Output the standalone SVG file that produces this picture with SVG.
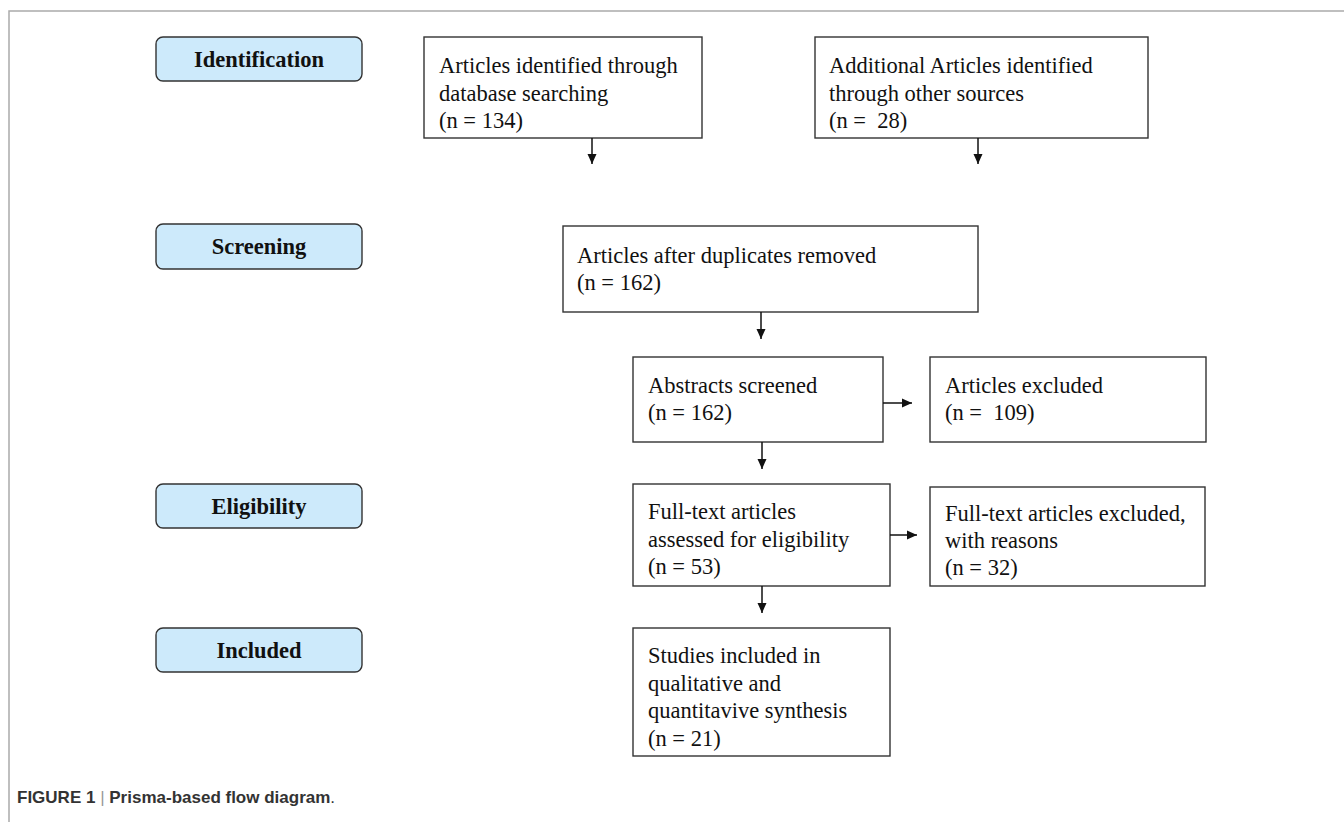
<svg xmlns="http://www.w3.org/2000/svg" width="1344" height="822" viewBox="0 0 1344 822">
  <style>
    .box { fill: #ffffff; stroke: #333333; stroke-width: 1.4; }
    .stage { fill: #cdeafb; stroke: #333333; stroke-width: 1.4; }
    .txt { font-family: "Liberation Serif", "Times New Roman", serif; font-size: 22.5px; fill: #111111; white-space: pre; }
    .lbl { font-family: "Liberation Serif", "Times New Roman", serif; font-size: 22.5px; font-weight: bold; fill: #111111; text-anchor: middle; }
    .conn { stroke: #111111; stroke-width: 1.5; fill: none; marker-end: url(#arrow); }
    .frame { stroke: #aaaaaa; stroke-width: 1.5; fill: none; }
    .cap { font-family: "Liberation Sans", Arial, sans-serif; font-size: 17px; font-weight: bold; fill: #333333; }
  </style>
  <defs>
    <marker id="arrow" markerWidth="12" markerHeight="12" refX="10" refY="6" orient="auto" markerUnits="userSpaceOnUse">
      <path d="M0,1.5 L10,6 L0,10.5 Z" fill="#111111"/>
    </marker>
  </defs>
  <rect width="1344" height="822" fill="#ffffff"/>
  <path class="frame" d="M9,822 V11 H1344"/>

  <g id="stage-identification">
    <rect class="stage" x="156" y="37" width="206" height="44" rx="7"/>
    <text class="lbl" x="259" y="67">Identification</text>
  </g>
  <g id="stage-screening">
    <rect class="stage" x="156" y="224" width="206" height="45" rx="7"/>
    <text class="lbl" x="259" y="254">Screening</text>
  </g>
  <g id="stage-eligibility">
    <rect class="stage" x="156" y="484" width="206" height="44" rx="7"/>
    <text class="lbl" x="259" y="514">Eligibility</text>
  </g>
  <g id="stage-included">
    <rect class="stage" x="156" y="628" width="206" height="44" rx="7"/>
    <text class="lbl" x="259" y="658">Included</text>
  </g>

  <g id="n-database">
    <rect class="box" x="424" y="37" width="278" height="101"/>
    <text class="txt" x="439" y="73">Articles identified through</text>
    <text class="txt" x="439" y="101">database searching</text>
    <text class="txt" x="439" y="128">(n = 134)</text>
  </g>
  <g id="n-other">
    <rect class="box" x="815" y="37" width="333" height="101"/>
    <text class="txt" x="829" y="73">Additional Articles identified</text>
    <text class="txt" x="829" y="101">through other sources</text>
    <text class="txt" x="829" y="128">(n =  28)</text>
  </g>
  <g id="n-dedup">
    <rect class="box" x="563" y="226" width="415" height="86"/>
    <text class="txt" x="577" y="263">Articles after duplicates removed</text>
    <text class="txt" x="577" y="290">(n = 162)</text>
  </g>
  <g id="n-abstracts">
    <rect class="box" x="633" y="357" width="250" height="85"/>
    <text class="txt" x="648" y="393">Abstracts screened</text>
    <text class="txt" x="648" y="420">(n = 162)</text>
  </g>
  <g id="n-excluded">
    <rect class="box" x="930" y="357" width="276" height="85"/>
    <text class="txt" x="945" y="393">Articles excluded</text>
    <text class="txt" x="945" y="420">(n =  109)</text>
  </g>
  <g id="n-fulltext">
    <rect class="box" x="633" y="484" width="257" height="102"/>
    <text class="txt" x="648" y="519">Full-text articles</text>
    <text class="txt" x="648" y="547">assessed for eligibility</text>
    <text class="txt" x="648" y="574">(n = 53)</text>
  </g>
  <g id="n-ft-excluded">
    <rect class="box" x="930" y="487" width="275" height="99"/>
    <text class="txt" x="945" y="521">Full-text articles excluded,</text>
    <text class="txt" x="945" y="548">with reasons</text>
    <text class="txt" x="945" y="575">(n = 32)</text>
  </g>
  <g id="n-included">
    <rect class="box" x="633" y="628" width="257" height="128"/>
    <text class="txt" x="648" y="663">Studies included in</text>
    <text class="txt" x="648" y="691">qualitative and</text>
    <text class="txt" x="648" y="718">quantitavive synthesis</text>
    <text class="txt" x="648" y="746">(n = 21)</text>
  </g>

  <g id="connectors">
    <line class="conn" x1="592" y1="138" x2="592" y2="164"/>
    <line class="conn" x1="978" y1="138" x2="978" y2="164"/>
    <line class="conn" x1="761" y1="312" x2="761" y2="339"/>
    <line class="conn" x1="883" y1="403" x2="912" y2="403"/>
    <line class="conn" x1="762" y1="442" x2="762" y2="469"/>
    <line class="conn" x1="890" y1="535" x2="917" y2="535"/>
    <line class="conn" x1="762" y1="586" x2="762" y2="613"/>
  </g>

  <text class="cap" x="17" y="803">FIGURE 1 <tspan font-weight="normal" fill="#999999">|</tspan> Prisma-based flow diagram<tspan font-weight="normal">.</tspan></text>
</svg>
